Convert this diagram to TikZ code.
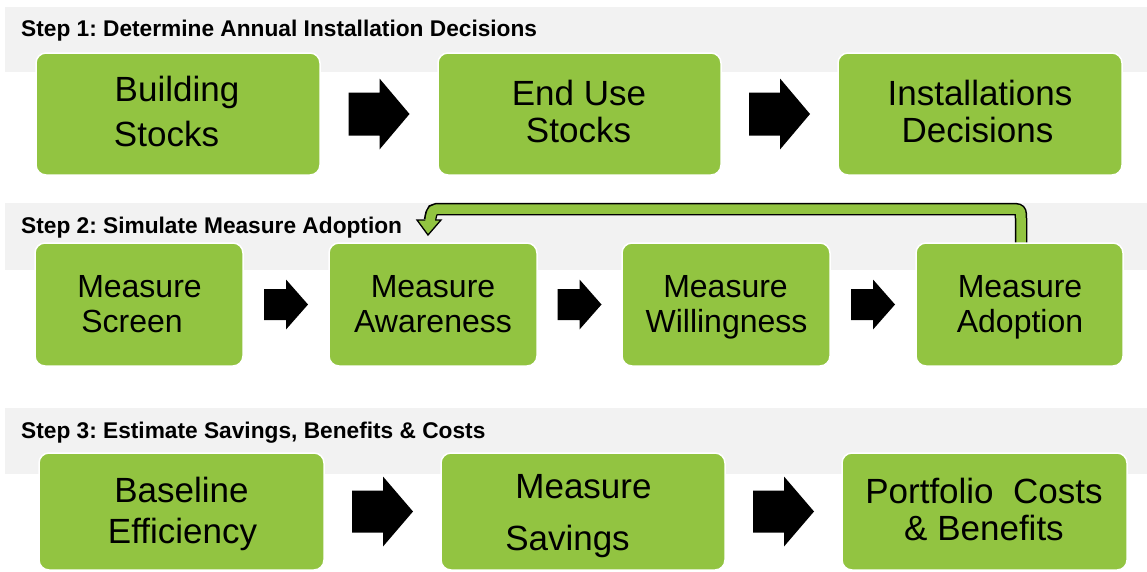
\documentclass[tikz,border=0pt]{standalone}
\usepackage{fontspec}
\setmainfont{Liberation Sans}
\usetikzlibrary{calc}
\frenchspacing
\definecolor{boxgreen}{RGB}{146,196,65}
\definecolor{bandgray}{RGB}{242,242,242}
\newcommand\blkarrow[6]{%
  \fill[black] let \p1=($(#1.east)!0.5!(#2.west)$) in
   (\x1-#3pt,\y1+#5pt) -- (\x1+#3pt-#4pt,\y1+#5pt) -- (\x1+#3pt-#4pt,\y1+#6pt)
   -- (\x1+#3pt,\y1) -- (\x1+#3pt-#4pt,\y1-#6pt) -- (\x1+#3pt-#4pt,\y1-#5pt)
   -- (\x1-#3pt,\y1-#5pt) -- cycle;}
\tikzset{
  band/.style={fill=bandgray, draw=none},
  box/.style={rounded corners=10pt, fill=boxgreen, draw=white, line width=1.5pt,
    inner sep=0pt, outer sep=0pt},
  hdr/.style={font=\fontsize{22.7}{26}\selectfont\bfseries, inner sep=0pt, anchor=base west},
  tA/.style={font=\fontsize{35}{40}\selectfont, inner sep=0pt, anchor=base},
  tB/.style={font=\fontsize{32}{36}\selectfont, inner sep=0pt, anchor=base},
}
\begin{document}
\begin{tikzpicture}[x=1pt,y=-1pt]
\useasboundingbox (0,0) rectangle (1147,571);
\fill[white] (0,0) rectangle (1147,571);
% bands
\path[band] (5,7) rectangle (1147,72);
\path[band] (5,203) rectangle (1147,270);
\path[band] (5,408) rectangle (1147,474);
% headers
\node[hdr] (h1) at (21,36) {Step 1: Determine Annual Installation Decisions};
\node[hdr] (h2) at (21,233) {Step 2: Simulate Measure Adoption};
\node[hdr] (h3) at (21,438) {Step 3: Estimate Savings, Benefits \& Costs};
% feedback arrow
\draw[black, line width=12.5pt] (1021,246.5) -- (1021,221) .. controls (1021,209) .. (1009,209)
   -- (443,209) .. controls (432,209) .. (430,220);
\filldraw[fill=boxgreen, draw=black, line width=1.3pt, line join=miter] (417,220) -- (441,220) -- (428,235) -- cycle;
\draw[boxgreen, line width=9.5pt] (1021,245) -- (1021,221) .. controls (1021,209) .. (1009,209)
   -- (443,209) .. controls (432,209) .. (429.8,222.5);
% boxes row 1
\node[box, minimum width=284pt, minimum height=122pt] (b11) at (178,114) {};
\node[box, minimum width=283pt, minimum height=122pt] (b12) at (579.5,114) {};
\node[box, minimum width=284pt, minimum height=122pt] (b13) at (980,114) {};
% boxes row 2
\node[box, minimum width=208pt, minimum height=123pt] (b21) at (139,304.5) {};
\node[box, minimum width=208pt, minimum height=123pt] (b22) at (433,304.5) {};
\node[box, minimum width=208pt, minimum height=123pt] (b23) at (726,304.5) {};
\node[box, minimum width=207pt, minimum height=123pt] (b24) at (1019.5,304.5) {};
% boxes row 3
\node[box, minimum width=285pt, minimum height=117pt] (b31) at (181.5,511.5) {};
\node[box, minimum width=284pt, minimum height=117pt] (b32) at (583,511.5) {};
\node[box, minimum width=285pt, minimum height=117pt] (b33) at (984.5,511.5) {};
% texts row 1
\node[tA] (t11a) at (177,101) {Building};
\node[tA] (t11b) at (166.5,146) {Stocks};
\node[tA] (t12a) at (579,105) {End Use};
\node[tA] (t12b) at (578.5,142) {Stocks};
\node[tA] (t13a) at (980,105) {Installations};
\node[tA] (t13b) at (977.5,142) {Decisions};
% texts row 2
\node[tB] (t21a) at (139.5,297) {Measure};
\node[tB] (t21b) at (132,332) {Screen};
\node[tB] (t22a) at (433,297) {Measure};
\node[tB] (t22b) at (433,332) {Awareness};
\node[tB] (t23a) at (725.5,297) {Measure};
\node[tB] (t23b) at (726.5,332) {Willingness};
\node[tB] (t24a) at (1020,297) {Measure};
\node[tB] (t24b) at (1020,332) {Adoption};
% texts row 3
\node[tA] (t31a) at (181.5,502) {Baseline};
\node[tA] (t31b) at (182.5,543) {Efficiency};
\node[tA] (t32a) at (583.5,498) {Measure};
\node[tA] (t32b) at (567.5,550) {Savings};
\node[tA] (t33a) at (984,503) {Portfolio\hspace{0.28em} Costs};
\node[tA] (t33b) at (984,540) {\& Benefits};
% block arrows
\blkarrow{b11}{b12}{30.5}{30}{21.5}{35.5}
\blkarrow{b12}{b13}{30.5}{30}{21.5}{35.5}
\blkarrow{b21}{b22}{22}{22}{15.5}{25}
\blkarrow{b22}{b23}{22}{22}{15.5}{25}
\blkarrow{b23}{b24}{22}{22}{15.5}{25}
\blkarrow{b31}{b32}{30.5}{30}{21}{35}
\blkarrow{b32}{b33}{30.5}{30}{21}{35}
\end{tikzpicture}
\end{document}
